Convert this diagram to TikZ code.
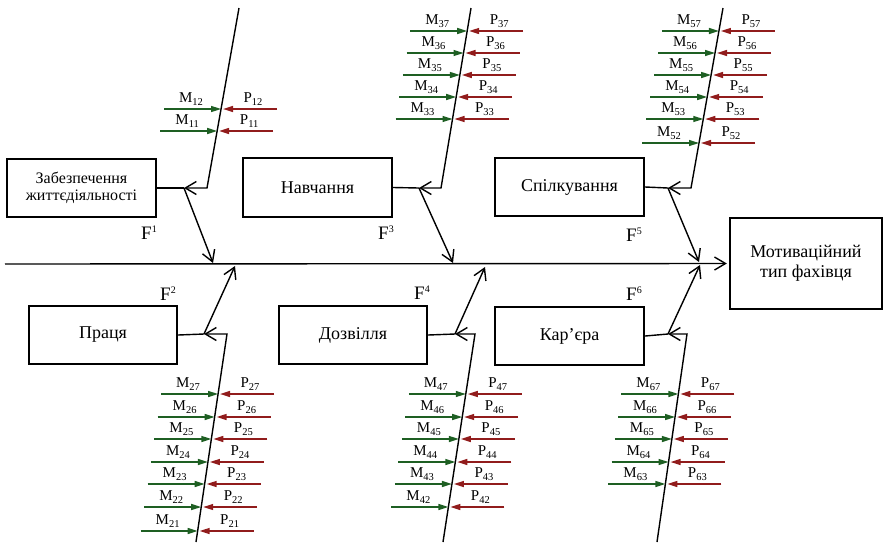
\documentclass[tikz,border=0pt]{standalone}
\usepackage{fontspec}
\setmainfont{Liberation Serif}
\usetikzlibrary{arrows.meta,calc}
\definecolor{mgreen}{RGB}{30,95,35}
\definecolor{pred}{RGB}{145,28,28}
\newcommand\subx[1]{\raisebox{-3pt}{\fontsize{10.5}{10.5}\selectfont #1}}
\newcommand\supx[1]{\raisebox{7pt}{\fontsize{10}{10}\selectfont #1}}
\newcommand\mprows[5]{%
  \foreach \i/\yy in {#5}{%
    \pgfmathsetmacro\pp{(\yy-(#3))/((#4)-(#3))}%
    \path (#1) -- (#2) coordinate[pos=\pp] (c\i);
    \draw[marr] ($(c\i)+(-57,0)$) -- (c\i);
    \draw[parr] ($(c\i)+(56,0)$) -- ($(c\i)+(2,0)$);
    \node[lab] (m\i) at ($(c\i)+(-30,-10)$) {M\subx{\i}};
    \node[lab] (p\i) at ($(c\i)+(32,-10)$) {P\subx{\i}};
  }}
\begin{document}
\begin{tikzpicture}[x=1pt,y=-1pt,
  box/.style={draw,line width=2.3pt,inner sep=0pt,align=center,font=\fontsize{18}{20}\selectfont},
  ln/.style={line width=1.4pt},
  barb/.style={ln,-{Straight Barb[length=11pt,width=13pt,line width=1.4pt]}},
  marr/.style={mgreen,line width=1.4pt,-{Triangle[length=10pt,width=6pt]}},
  parr/.style={pred,line width=1.4pt,-{Triangle[length=10pt,width=6pt]}},
  lab/.style={font=\fontsize{15}{15}\selectfont,inner sep=0pt},
  flab/.style={font=\fontsize{19}{19}\selectfont,inner sep=0pt},
]
\useasboundingbox (0,0) rectangle (883,542);
% boxes
\node[box,minimum width=149pt,minimum height=58pt,font=\fontsize{16}{17}\selectfont] (b1) at (81.5,188) {Забезпечення\\життєдіяльності};
\node[box,minimum width=149pt,minimum height=59pt] (b3) at (317.5,187.5) {Навчання};
\node[box,minimum width=149pt,minimum height=58pt] (b5) at (569.5,187) {Спілкування};
\node[box,minimum width=148pt,minimum height=58pt] (b2) at (103,335) {Праця};
\node[box,minimum width=148pt,minimum height=58pt] (b4) at (353,335) {Дозвілля};
\node[box,minimum width=149pt,minimum height=58pt] (b6) at (569.5,336) {Кар’єра};
\node[box,minimum width=152pt,minimum height=91pt] (out) at (806,263.5) {Мотиваційний\\тип фахівця};
% coordinates
\coordinate (s0) at (5,264);
\coordinate (top1) at (239,8);  \coordinate (bend1) at (207,188); \coordinate (j1) at (184,188); \coordinate (t1) at (213,263);
\coordinate (top3) at (471,8);  \coordinate (bend3) at (441,188); \coordinate (j3) at (419,188); \coordinate (t3) at (453,263);
\coordinate (top5) at (723,8);  \coordinate (bend5) at (691,188); \coordinate (j5) at (668,188); \coordinate (t5) at (699,262);
\coordinate (bot2) at (196,542); \coordinate (bend2) at (227,334); \coordinate (j2) at (204,334); \coordinate (t2) at (235,266);
\coordinate (bot4) at (443,542); \coordinate (bend4) at (475,334); \coordinate (j4) at (455,334); \coordinate (t4) at (485,267);
\coordinate (bot6) at (657,542); \coordinate (bend6) at (687,334); \coordinate (j6) at (668,334); \coordinate (t6) at (700,265);
% spine
\draw[barb,shorten >=2pt] (s0) -- (out.west);
% connectors and bones
\foreach \k in {1,3,5}{
  \draw[ln] (b\k.east) -- (j\k);
  \draw[barb] (j\k) -- (t\k);
  \draw[barb] (top\k) -- (bend\k) -- (j\k);
}
\foreach \k in {2,4,6}{
  \draw[ln] (b\k.east) -- (j\k);
  \draw[barb] (j\k) -- (t\k);
  \draw[barb] (bot\k) -- (bend\k) -- (j\k);
}
% M / P rows
\mprows{top1}{bend1}{8}{188}{12/109,11/131}
\mprows{top3}{bend3}{8}{188}{37/31,36/53,35/75,34/97,33/119}
\mprows{top5}{bend5}{8}{188}{57/31,56/53,55/75,54/97,53/119,52/143}
\mprows{bot2}{bend2}{542}{334}{27/394,26/417,25/439,24/462,23/484,22/507,21/531}
\mprows{bot4}{bend4}{542}{334}{47/394,46/417,45/439,44/462,43/484,42/507}
\mprows{bot6}{bend6}{542}{334}{67/394,66/417,65/439,64/462,63/484}
% F labels
\node[flab] (f1) at (149,233) {F\supx{1}};
\node[flab] (f3) at (386,233) {F\supx{3}};
\node[flab] (f5) at (634,235) {F\supx{5}};
\node[flab] (f2) at (168,294) {F\supx{2}};
\node[flab] (f4) at (422,293) {F\supx{4}};
\node[flab] (f6) at (634,294) {F\supx{6}};
\end{tikzpicture}
\end{document}
